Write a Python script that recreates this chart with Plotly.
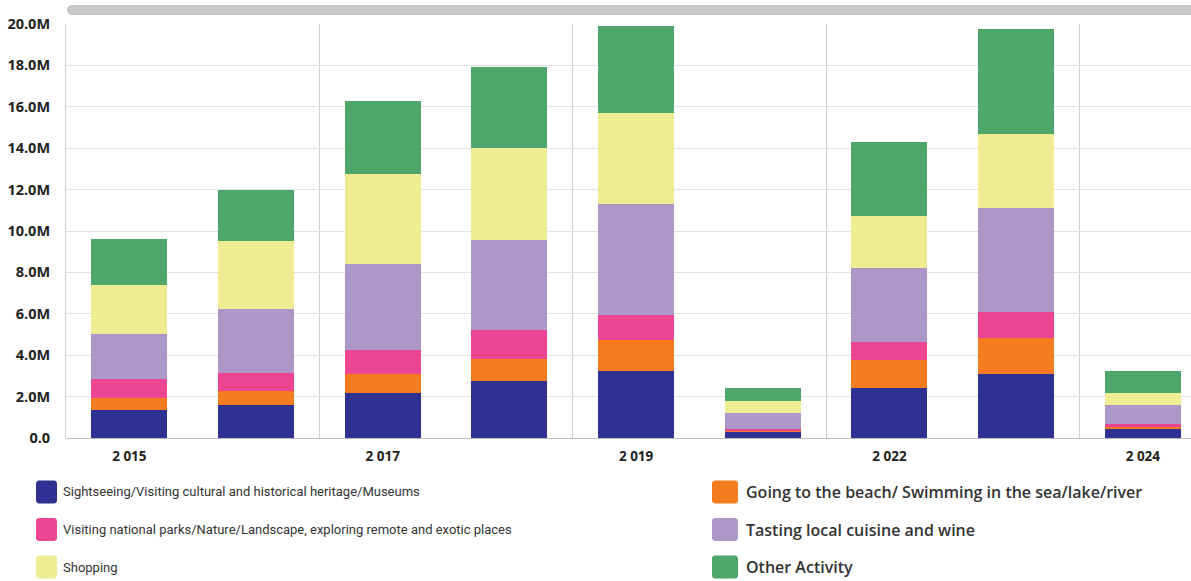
import plotly.graph_objects as go

# ---- data (millions of visitors) ----
years = ["2015", "2016", "2017", "2018", "2019", "2020", "2022", "2023", "2024"]
tick_years = ["2015", "2017", "2019", "2022", "2024"]
tick_year_labels = ["2 015", "2 017", "2 019", "2 022", "2 024"]

sightseeing = [1.33, 1.60, 2.18, 2.74, 3.25, 0.30, 2.43, 3.10, 0.44]
beach = [0.61, 0.66, 0.92, 1.09, 1.49, 0.05, 1.36, 1.74, 0.08]
parks = [0.89, 0.90, 1.16, 1.38, 1.18, 0.09, 0.87, 1.26, 0.17]
cuisine = [2.20, 3.08, 4.16, 4.36, 5.39, 0.78, 3.56, 5.00, 0.91]
shopping = [2.34, 3.29, 4.31, 4.42, 4.38, 0.59, 2.49, 3.58, 0.58]
other = [2.25, 2.44, 3.54, 3.94, 4.20, 0.60, 3.58, 5.10, 1.07]

series_names = [
    "Sightseeing/Visiting cultural and historical heritage/Museums",
    "Going to the beach/ Swimming in the sea/lake/river",
    "Visiting national parks/Nature/Landscape, exploring remote and exotic places",
    "Tasting local cuisine and wine",
    "Shopping",
    "Other Activity",
]
series_values = [sightseeing, beach, parks, cuisine, shopping, other]
series_colors = ["#2e3192", "#f47b20", "#ec4592", "#ad97c8", "#f0ec94", "#4ea66b"]

y_tick_vals = [0, 2, 4, 6, 8, 10, 12, 14, 16, 18, 20]
y_tick_text = ["0.0" if v == 0 else f"{v:.1f}M" for v in y_tick_vals]

# ---- layout geometry ----
W_FIG, H_FIG = 1191, 581
ML, MR, MT, MB = 66, 0, 24, 143
PW = W_FIG - ML - MR
PH = H_FIG - MT - MB


def fx(px):
    return (px - ML) / PW


def fy(py):
    return (MT + PH - py) / PH


def rounded_rect(x0, y0, x1, y1, r):
    k = 0.5523 * r
    pts = [
        f"M{fx(x0 + r)},{fy(y0)}",
        f"L{fx(x1 - r)},{fy(y0)}",
        f"C{fx(x1 - r + k)},{fy(y0)} {fx(x1)},{fy(y0 + r - k)} {fx(x1)},{fy(y0 + r)}",
        f"L{fx(x1)},{fy(y1 - r)}",
        f"C{fx(x1)},{fy(y1 - r + k)} {fx(x1 - r + k)},{fy(y1)} {fx(x1 - r)},{fy(y1)}",
        f"L{fx(x0 + r)},{fy(y1)}",
        f"C{fx(x0 + r - k)},{fy(y1)} {fx(x0)},{fy(y1 - r + k)} {fx(x0)},{fy(y1 - r)}",
        f"L{fx(x0)},{fy(y0 + r)}",
        f"C{fx(x0)},{fy(y0 + r - k)} {fx(x0 + r - k)},{fy(y0)} {fx(x0 + r)},{fy(y0)}",
        "Z",
    ]
    return " ".join(pts)


fig = go.Figure()
for name, vals, col in zip(series_names, series_values, series_colors):
    fig.add_trace(
        go.Bar(
            x=years,
            y=vals,
            name=name,
            marker=dict(color=col, line=dict(width=0)),
            showlegend=False,
        )
    )

shapes = []
annotations = []

# scrollbar-like bar at top
shapes.append(
    dict(
        type="path",
        xref="paper",
        yref="paper",
        path=rounded_rect(67, 5, 1215, 15, 5),
        fillcolor="#c6c6c6",
        line=dict(width=0),
        layer="above",
    )
)

# custom legend (two columns)
col_swatch = [(36, 57), (712, 738)]
col_text = [61, 744]
row_centers = [492, 529.5, 567]
col_fonts = [
    dict(family="Roboto", size=13, color="#333333"),
    dict(family="Open Sans", size=16, color="#333333", weight=600),
]
for i, (name, col) in enumerate(zip(series_names, series_colors)):
    c, r = i % 2, i // 2
    cy = row_centers[r]
    sx0, sx1 = col_swatch[c]
    shapes.append(
        dict(
            type="path",
            xref="paper",
            yref="paper",
            path=rounded_rect(sx0, cy - 11.5, sx1, cy + 11.5, 3),
            fillcolor=col,
            line=dict(width=0),
        )
    )
    annotations.append(
        dict(
            xref="paper",
            yref="paper",
            x=fx(col_text[c]),
            y=fy(cy),
            xanchor="left",
            yanchor="middle",
            text=name,
            showarrow=False,
            font=col_fonts[c],
        )
    )

fig.update_layout(
    barmode="stack",
    bargap=0.4,
    width=W_FIG,
    height=H_FIG,
    margin=dict(l=ML, r=MR, t=MT, b=MB),
    paper_bgcolor="white",
    plot_bgcolor="white",
    shapes=shapes,
    annotations=annotations,
    showlegend=False,
    xaxis=dict(
        type="category",
        categoryorder="array",
        categoryarray=years,
        range=[-0.5, 8.38],
        tickmode="array",
        tickvals=tick_years,
        ticktext=tick_year_labels,
        tickson="boundaries",
        ticks="",
        showgrid=True,
        gridcolor="#cfcfcf",
        gridwidth=1,
        showline=False,
        zeroline=False,
        tickfont=dict(family="Open Sans", size=13.5, color="#222222", weight=700),
        ticklabelstandoff=8,
    ),
    yaxis=dict(
        range=[0, 20],
        tickmode="array",
        tickvals=y_tick_vals,
        ticktext=y_tick_text,
        showgrid=True,
        gridcolor="#e2e2e2",
        gridwidth=1,
        zeroline=True,
        zerolinecolor="#bdbdbd",
        zerolinewidth=1,
        showline=True,
        linecolor="#d0d0d0",
        linewidth=1,
        ticks="",
        tickfont=dict(family="Open Sans", size=14.5, color="#222222", weight=700),
        ticklabelstandoff=12,
    ),
)

fig.write_html("out.html")
